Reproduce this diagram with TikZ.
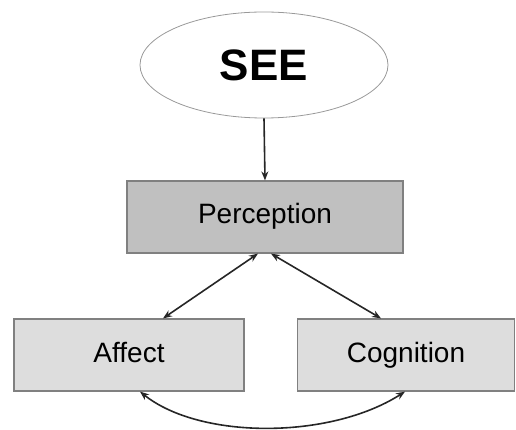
\documentclass[tikz,border=0pt]{standalone}
\usepackage{fontspec}
\setmainfont{Liberation Sans}
\usepackage{tikz}
\usetikzlibrary{shapes.geometric, arrows.meta, calc}
\definecolor{cDark}{RGB}{192,192,192}
\definecolor{cLight}{RGB}{221,221,221}
\definecolor{cLine}{RGB}{128,128,128}

\begin{document}
\begin{tikzpicture}[x=1pt, y=1pt, >={Stealth[length=9pt, width=7pt]}, thick,
   box/.style={draw=cLine, line width=1.2pt, minimum height=72pt,
      text height=20pt, text depth=6pt, font=\fontsize{28}{32}\selectfont},
   link/.style={line width=1.6pt, draw=black!85}]
   \useasboundingbox (0,0) rectangle (516,-430);
   % Nodes at fixed positions, top to bottom
   \node[ellipse, draw=gray!80, line width=0.8pt, minimum width=248pt, minimum height=106pt,
      font=\fontsize{44}{50}\selectfont\bfseries] (see) at (264,-65) {SEE};
   \node[box, fill=cDark, minimum width=276pt] (perc) at (265,-217) {Perception};
   \node[box, fill=cLight, minimum width=230pt] (aff) at (129,-355) {Affect};
   \node[box, fill=cLight, minimum width=217pt] (cog) at (406,-355) {Cognition};

   % Edges
   \draw[link, ->] (see.south) -- (perc.north);
   \draw[link, <->] ([xshift=-7pt]perc.south) -- ([xshift=34pt]aff.north);
   \draw[link, <->] ([xshift=6pt]perc.south) -- ([xshift=-25pt]cog.north);
   \draw[link, <->] ([xshift=11pt]aff.south) .. controls +(60,-48) and +(-75,-48) .. ([xshift=-1pt]cog.south);
\end{tikzpicture}
\end{document}
